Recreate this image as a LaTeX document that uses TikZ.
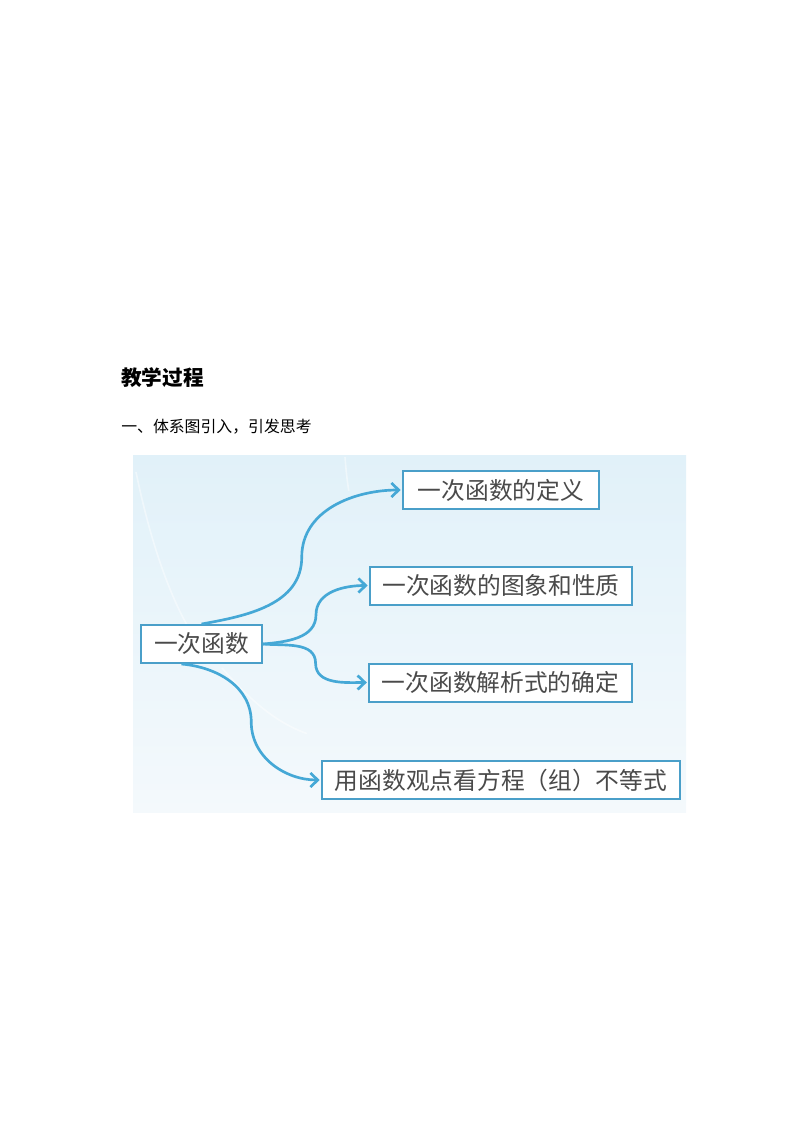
\documentclass[tikz,border=0pt]{standalone}
\usepackage{fontspec}
\newfontfamily\cjk{Noto Sans CJK SC}
\usetikzlibrary{arrows.meta,calc}
\definecolor{linkblue}{HTML}{45A8D6}
\definecolor{boxblue}{HTML}{4A9FC9}
\definecolor{boxtext}{HTML}{4A4A4A}
\definecolor{paneltop}{HTML}{E1F1F9}
\definecolor{panelbot}{HTML}{F4F9FC}

\begin{document}
\begin{tikzpicture}[x=0.75pt,y=-0.75pt,>={Straight Barb[length=5.5pt,width=10.5pt]},shorten >=1pt,
  topic/.style={draw=boxblue,line width=1.5pt,fill=white,text=boxtext,
    font=\cjk\fontsize{17.8pt}{20pt}\selectfont,minimum height=28.5pt,inner sep=0pt},
  link/.style={->,draw=linkblue,line width=2pt},
  heading/.style={anchor=west,inner sep=0pt}]
  \useasboundingbox (0,0) rectangle (794,1123);
  \node[heading,font=\cjk\bfseries\fontsize{15.5pt}{18pt}\selectfont] (title) at (121,378) {教学过程};
  \node[heading,font=\cjk\fontsize{11.9pt}{14pt}\selectfont] (sub) at (121,427) {一、体系图引入，引发思考};
  % panel
  \shade[top color=paneltop,bottom color=panelbot] (133,455) rectangle (686,812);
  \draw[white,opacity=.45,line width=1.2pt] (136,472) .. controls (150,540) and (170,600) .. (196,640);
  \draw[white,opacity=.45,line width=1.2pt] (345,457) .. controls (346,470) and (347,480) .. (349,492);
  \draw[white,opacity=.45,line width=1.2pt] (222,668) .. controls (250,700) and (275,722) .. (308,734);
  % nodes
  \node[topic,minimum width=90.75pt] (root) at (201.5,644) {一次函数};
  \node[topic,minimum width=147pt] (def) at (501,490) {一次函数的定义};
  \node[topic,minimum width=196.5pt] (graph) at (501,585.5) {一次函数的图象和性质};
  \node[topic,minimum width=197pt] (formula) at (500.5,682.5) {一次函数解析式的确定};
  \node[topic,minimum width=268.5pt] (eq) at (501,780) {用函数观点看方程（组）不等式};
  % links
  \draw[link] (root.north) to[out=10,in=-90] ($(root.north)!.5!(def.west)$)
    to[out=90,in=180] (def.west);
  \draw[link] (root.east) to[out=5,in=-90] ($(root.east)!.5!(graph.west)$)
    to[out=90,in=180] (graph.west);
  \draw[link] (root.east) to[out=-5,in=90] ($(root.east)!.5!(formula.west)$)
    to[out=-90,in=180] (formula.west);
  \draw[link] ([xshift=-15pt]root.south) to[out=-5,in=90] ($([xshift=-15pt]root.south)!.5!(eq.west)$)
    to[out=-90,in=180] (eq.west);
\end{tikzpicture}
\end{document}
